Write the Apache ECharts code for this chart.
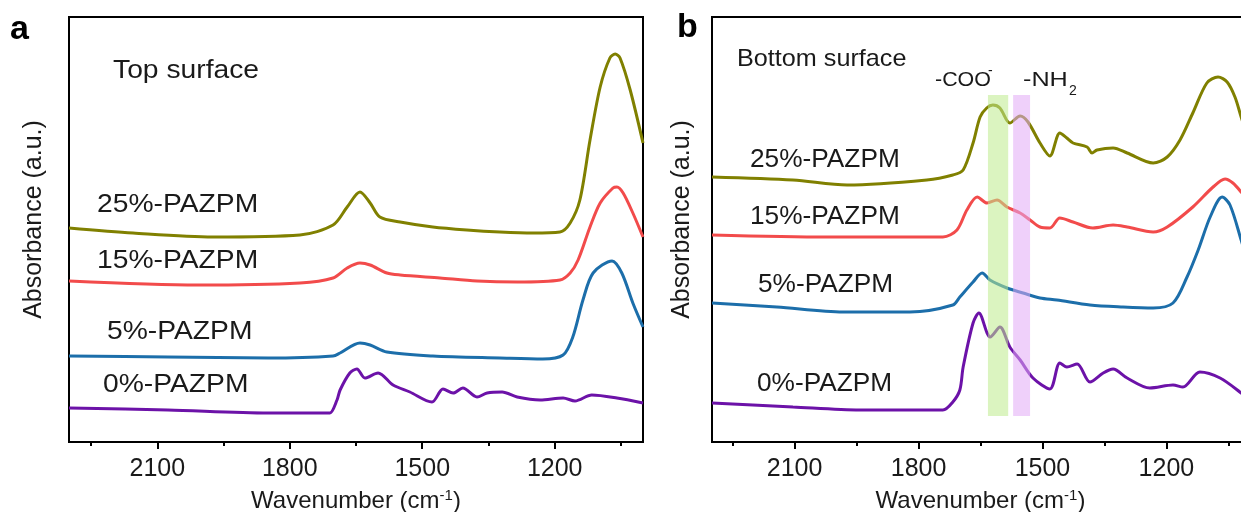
<!DOCTYPE html>
<html><head><meta charset="utf-8">
<script src="https://cdn.jsdelivr.net/npm/echarts@6/dist/echarts.min.js"></script>
<style>html,body{margin:0;padding:0;background:#fff;overflow:hidden}#c{width:1241px;height:512px}</style>
</head><body><div id="c"></div>
<script>
// ---------- data ----------
const xMajorTicks = [2100, 1800, 1500, 1200];
const xMinorTicks = [2250, 1950, 1650, 1350, 1050];
const seriesNames = ['0%-PAZPM', '5%-PAZPM', '15%-PAZPM', '25%-PAZPM'];
const lineColors = ['#6c12a8', '#1c6eaa', '#f24b4b', '#808000'];

// Panel a (Top surface): wavenumber / absorbance (a.u., offset-stacked)
const topWn0  = [2300,2076,1849,1720,1709,1693,1686,1664,1648,1630,1600,1566,1528,1478,1453,1430,1408,1376,1353,1319,1285,1233,1181,1154,1116,1059,1000];
const topAbs0 = [34,32,29,29,29,42,52,69,73,64,69,57,50,40,53,49,54,45,49,50,45,42,44,41,47,44,39];
const topWn5  = [2300,2076,1849,1702,1686,1641,1618,1580,1476,1324,1227,1181,1159,1136,1113,1070,1048,1023,1000];
const topAbs5 = [86,85,84,86,89,99,97,90,86,84,83,87,105,142,169,181,169,139,115];
const topWn15  = [2300,2008,1777,1702,1670,1641,1618,1580,1550,1460,1376,1285,1188,1165,1147,1120,1097,1068,1059,1045,1023,1000];
const topAbs15 = [161,157,159,164,174,179,177,169,167,164,161,160,162,169,182,215,239,254,255,249,229,205];
const topWn25  = [2300,2155,1974,1777,1702,1670,1641,1618,1596,1550,1476,1399,1324,1249,1188,1165,1143,1120,1097,1075,1063,1052,1029,1000];
const topAbs25 = [214,209,205,207,217,235,250,239,225,220,215,212,210,209,210,219,242,302,355,384,388,384,352,299];

// Panel b (Bottom surface)
const botWn0  = [2300,2104,1942,1741,1717,1700,1692,1668,1654,1634,1627,1603,1579,1554,1523,1482,1458,1441,1416,1385,1353,1329,1295,1240,1184,1160,1119,1070,1019,1000];
const botAbs0 = [39,35,32,32,40,52,75,119,129,109,105,115,95,82,64,53,79,75,78,60,69,73,64,54,57,55,70,64,49,42];
const botWn5  = [2300,2143,1983,1821,1717,1700,1668,1646,1627,1586,1547,1506,1465,1385,1305,1232,1184,1150,1123,1094,1065,1046,1019,1000];
const botAbs5 = [139,135,130,130,137,145,160,169,162,154,149,144,142,137,135,134,139,165,192,225,245,237,202,175];
const botWn15  = [2300,2022,1741,1707,1683,1658,1634,1610,1586,1554,1530,1506,1482,1458,1426,1378,1329,1295,1232,1198,1136,1087,1058,1039,1019,1000];
const botAbs15 = [207,205,205,212,232,245,239,242,235,229,222,215,214,224,220,214,217,215,210,215,235,255,263,259,250,240];
const botWn25  = [2300,2104,1973,1780,1717,1692,1668,1651,1635,1620,1603,1579,1554,1535,1506,1482,1458,1441,1426,1392,1380,1368,1329,1295,1232,1198,1167,1136,1102,1075,1053,1034,1019,1000];
const botAbs25 = [265,262,257,262,267,272,299,325,334,337,334,319,326,320,299,286,309,304,299,295,289,292,294,289,279,285,302,329,359,365,360,345,325,300];

// Highlight bands (wavenumber ranges)
const cooBand = [1632, 1583];
const nh2Band = [1571, 1530];
const bandAbs = [26, 347];

// ---------- chart ----------
const FONT = '"Liberation Sans", Arial, sans-serif';
const zip = (a, b) => a.map((v, i) => [v, b[i]]);
const topSets = [[topWn0, topAbs0], [topWn5, topAbs5], [topWn15, topAbs15], [topWn25, topAbs25]];
const botSets = [[botWn0, botAbs0], [botWn5, botAbs5], [botWn15, botAbs15], [botWn25, botAbs25]];

function majorAxis(grid) {
  return {
    type: 'value', gridIndex: grid, min: 1000, max: 2300, inverse: true, position: 'bottom',
    axisLine: { show: true, lineStyle: { color: '#000', width: 2 } },
    axisTick: { show: true, customValues: xMajorTicks, length: 7, lineStyle: { color: '#000', width: 2 } },
    axisLabel: { customValues: xMajorTicks, formatter: v => String(v), fontSize: 25, fontFamily: FONT, color: '#1a1a1a', margin: 15 },
    splitLine: { show: false },
    name: '{n|Wavenumber (cm}{s|-1}{n|)}', nameLocation: 'middle', nameGap: 46,
    nameTextStyle: { rich: {
      n: { fontSize: 24, fontFamily: FONT, color: '#1a1a1a', lineHeight: 26 },
      s: { fontSize: 15, fontFamily: FONT, color: '#1a1a1a', verticalAlign: 'top', lineHeight: 26 }
    } }
  };
}
function minorAxis(grid) {
  return {
    type: 'value', gridIndex: grid, min: 1000, max: 2300, inverse: true, position: 'bottom',
    axisLine: { show: false },
    axisTick: { show: true, customValues: xMinorTicks, length: 4, lineStyle: { color: '#000', width: 2 } },
    axisLabel: { show: false }, splitLine: { show: false }
  };
}
function yAx(grid, gap) {
  return {
    type: 'value', gridIndex: grid, min: 0, max: 425,
    axisLine: { show: false }, axisTick: { show: false }, axisLabel: { show: false }, splitLine: { show: false },
    name: 'Absorbance (a.u.)', nameLocation: 'middle', nameGap: gap,
    nameTextStyle: { fontSize: 25, fontFamily: FONT, color: '#1a1a1a', padding: [0, 0, 0, 20] }
  };
}

const series = [];
topSets.forEach((s, i) => series.push({
  name: seriesNames[i], type: 'line', xAxisIndex: 0, yAxisIndex: 0, data: zip(s[0], s[1]),
  showSymbol: false, smooth: 0.3, lineStyle: { width: 3, color: lineColors[i] }, z: 2
}));
botSets.forEach((s, i) => series.push({
  name: seriesNames[i], type: 'line', xAxisIndex: 2, yAxisIndex: 1, data: zip(s[0], s[1]),
  showSymbol: false, smooth: 0.3, lineStyle: { width: 3, color: lineColors[i] }, z: 2
}));
series.push({
  type: 'line', xAxisIndex: 2, yAxisIndex: 1, data: [], z: 10,
  markArea: { silent: true, z: 10, data: [
    [{ xAxis: cooBand[0], yAxis: bandAbs[0], itemStyle: { color: 'rgba(190,235,140,0.55)' } }, { xAxis: cooBand[1], yAxis: bandAbs[1] }],
    [{ xAxis: nh2Band[0], yAxis: bandAbs[0], itemStyle: { color: 'rgba(225,170,245,0.55)' } }, { xAxis: nh2Band[1], yAxis: bandAbs[1] }]
  ] }
});

function label(text, x, y, size, sx, extra) {
  return Object.assign({
    type: 'text', x: x, y: y, scaleX: sx || 1, z: 20,
    style: { text: text, font: size + 'px ' + FONT, fill: '#1a1a1a', verticalAlign: 'middle', align: 'left' }
  }, extra || {});
}

const graphic = [
  label('a', 10, 30, 34, 1, { style: { text: 'a', font: 'bold 34px ' + FONT, fill: '#000', verticalAlign: 'middle' } }),
  label('b', 677, 28, 34, 1, { style: { text: 'b', font: 'bold 34px ' + FONT, fill: '#000', verticalAlign: 'middle' } }),
  label('Top surface', 113, 71, 25, 1.13),
  label(seriesNames[3], 97, 205, 25, 1.13),
  label(seriesNames[2], 97, 261, 25, 1.13),
  label(seriesNames[1], 107, 332, 25, 1.13),
  label(seriesNames[0], 103, 385, 25, 1.13),
  label('Bottom surface', 737, 59, 24, 1.05),
  label(seriesNames[3], 750, 160, 25, 1.05),
  label(seriesNames[2], 750, 217, 25, 1.05),
  label(seriesNames[1], 758, 285, 25, 1.05),
  label(seriesNames[0], 757, 384, 25, 1.05),
  label('-COO', 935, 80, 21, 1.02),
  label('-', 988, 71, 14, 1),
  label('-NH', 1023, 80, 21, 1.2),
  label('2', 1069, 91, 14, 1)
];

const chart = echarts.init(document.getElementById('c'), null, { renderer: 'canvas' });
chart.setOption({
  backgroundColor: '#fff',
  animation: false,
  grid: [
    { left: 69, top: 17, width: 574, height: 425, show: true, borderColor: '#000', borderWidth: 2, backgroundColor: 'transparent', containLabel: false, outerBoundsMode: 'none' },
    { left: 712, top: 17, width: 537, height: 425, show: true, borderColor: '#000', borderWidth: 2, backgroundColor: 'transparent', containLabel: false, outerBoundsMode: 'none' }
  ],
  xAxis: [majorAxis(0), minorAxis(0), majorAxis(1), minorAxis(1)],
  yAxis: [yAx(0, 22), yAx(1, 17)],
  series: series,
  graphic: graphic
});
</script></body></html>
